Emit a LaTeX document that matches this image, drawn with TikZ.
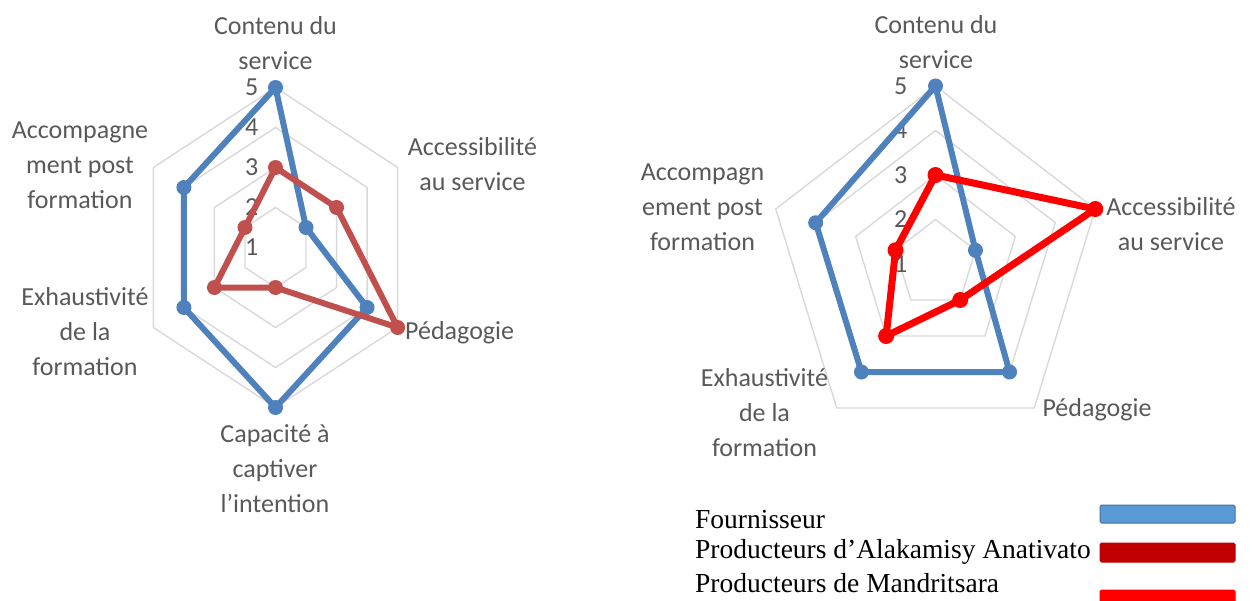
\documentclass[tikz,border=0pt]{standalone}
\usepackage{fontspec}
\setmainfont{Carlito}
\newfontfamily\legendfont{Liberation Serif}
\definecolor{sblue}{HTML}{4F81BD}
\definecolor{lred}{HTML}{C0504D}
\definecolor{rred}{HTML}{FF0000}
\definecolor{gridgray}{HTML}{D9D9D9}
\definecolor{labelgray}{HTML}{595959}
\definecolor{legblue}{HTML}{5B9BD5}
\definecolor{legblueedge}{HTML}{41719C}
\definecolor{legdark}{HTML}{C00000}
\begin{document}
\begin{tikzpicture}[x=1pt,y=-1pt,
  grid/.style={draw=gridgray, line width=1.4pt, line join=round},
  series/.style={line width=6pt, line join=round},
  cat/.style={font=\fontsize{26}{35}\selectfont, text=labelgray, align=center, inner sep=0pt},
  tick/.style={font=\fontsize{26}{35}\selectfont, text=labelgray, anchor=east, inner sep=0pt},
  legtext/.style={font=\legendfont\fontsize{27.5}{32}\selectfont, anchor=west, inner sep=0pt},
  swatch/.style={line width=1pt, rounded corners=1.5pt}]
\useasboundingbox (0,0) rectangle (1256,600);

% ---- hexagonal radar (six criteria), scale 1 at the centre, 5 on the outer ring
\begin{scope}[shift={(275.5,247.5)}, x=35.25pt, y=40pt]
  \foreach \r in {1,2,3,4}
    \draw[grid] (90:\r) -- (30:\r) -- (-30:\r) -- (-90:\r) -- (-150:\r) -- (150:\r) -- cycle;
  \foreach \v/\r in {5/4,4/3,3/2,2/1,1/0}
    \node[tick] (lt\v) at ([xshift=-17pt]90:\r) {\v};
  % Fournisseur
  \coordinate (lb1) at (90:4);
  \coordinate (lb2) at (30:1);
  \coordinate (lb3) at (-30:3);
  \coordinate (lb4) at (-90:4);
  \coordinate (lb5) at (-150:3);
  \coordinate (lb6) at (150:3);
  % Producteurs d'Alakamisy Anativato
  \coordinate (lr1) at (90:2);
  \coordinate (lr2) at (30:2);
  \coordinate (lr3) at (-30:4);
  \coordinate (lr4) at (-90:1);
  \coordinate (lr5) at (-150:2);
  \coordinate (lr6) at (150:1);
  \draw[series, draw=sblue] (lb1) -- (lb2) -- (lb3) -- (lb4) -- (lb5) -- (lb6) -- cycle;
  \foreach \i in {1,...,6} \fill[sblue] (lb\i) circle[radius=7.5pt];
  \draw[series, draw=lred] (lr1) -- (lr2) -- (lr3) -- (lr4) -- (lr5) -- (lr6) -- cycle;
  \foreach \i in {1,...,6} \fill[lred] (lr\i) circle[radius=7.5pt];
\end{scope}

\node[cat] (lc1) at (275.5,43) {Contenu du\\service};
\node[cat] (lc2) at (472.5,164) {Accessibilité\\au service};
\node[cat, anchor=west] (lc3) at (405,333) {Pédagogie};
\node[cat] (lc4) at (275,469) {Capacité à\\captiver\\l’intention};
\node[cat] (lc5) at (85,332) {Exhaustivité\\de la\\formation};
\node[cat] (lc6) at (80,165) {Accompagne\\ment post\\formation};

% ---- pentagonal radar (five criteria)
\begin{scope}[shift={(935.5,264)}, x=42pt, y=44.5pt]
  \foreach \r in {1,2,3,4}
    \draw[grid] (90:\r) -- (18:\r) -- (-54:\r) -- (-126:\r) -- (162:\r) -- cycle;
  \foreach \v/\r in {5/4,4/3,3/2,2/1,1/0}
    \node[tick] (rt\v) at ([xshift=-28pt]90:\r) {\v};
  % Fournisseur
  \coordinate (rb1) at (90:4);
  \coordinate (rb2) at (18:1);
  \coordinate (rb3) at (-54:3);
  \coordinate (rb4) at (-126:3);
  \coordinate (rb5) at (162:3);
  % Producteurs de Mandritsara
  \coordinate (rr1) at (90:2);
  \coordinate (rr2) at (18:4);
  \coordinate (rr3) at (-54:1);
  \coordinate (rr4) at (-126:2);
  \coordinate (rr5) at (162:1);
  \draw[series, draw=sblue] (rb1) -- (rb2) -- (rb3) -- (rb4) -- (rb5) -- cycle;
  \foreach \i in {1,...,5} \fill[sblue] (rb\i) circle[radius=7.5pt];
  \draw[series, line width=7pt, draw=rred] (rr1) -- (rr2) -- (rr3) -- (rr4) -- (rr5) -- cycle;
  \foreach \i in {1,...,5} \fill[rred] (rr\i) circle[radius=8pt];
\end{scope}

\node[cat] (rc1) at (936,42.5) {Contenu du\\service};
\node[cat] (rc2) at (1171,224.5) {Accessibilité\\au service};
\node[cat] (rc3) at (1097,410) {Pédagogie};
\node[cat] (rc4) at (764.5,413) {Exhaustivité\\de la\\formation};
\node[cat] (rc5) at (702.5,207.5) {Accompagn\\ement post\\formation};

% ---- legend
\node[legtext] (k1) at (695,520) {Fournisseur};
\node[legtext] (k2) at (695,552) {Producteurs d’Alakamisy Anativato};
\node[legtext] (k3) at (695,583) {Producteurs de Mandritsara};
\draw[swatch, fill=legblue, draw=legblueedge] (1100,505) rectangle (1235,523);
\draw[swatch, fill=legdark, draw=legdark] (1100,543) rectangle (1235,562);
\draw[swatch, fill=rred, draw=rred] (1100,590) rectangle (1235,606);
\end{tikzpicture}
\end{document}
